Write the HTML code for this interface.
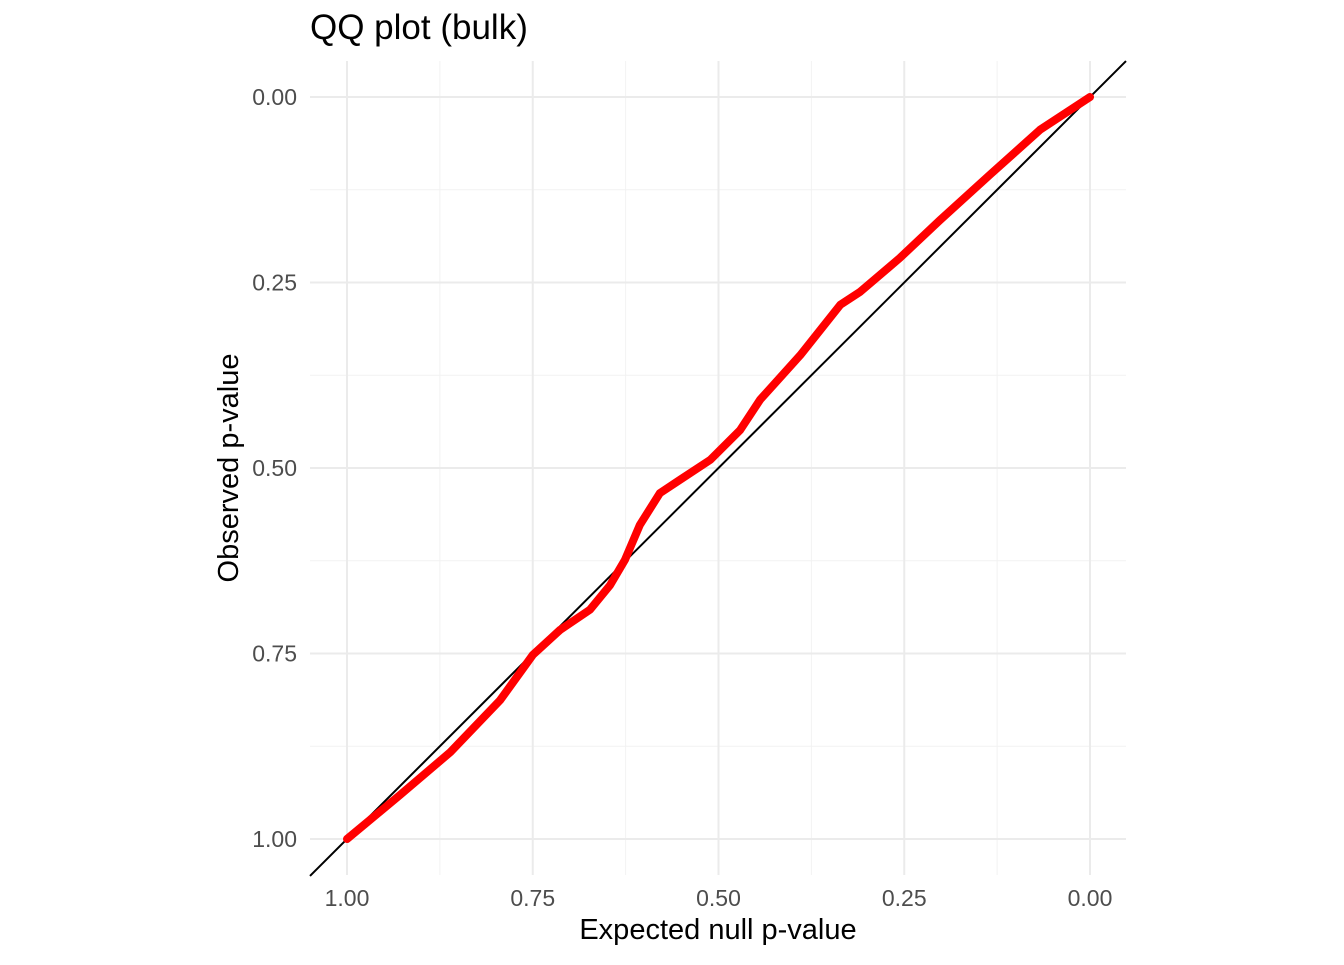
<!DOCTYPE html>
<html><head><meta charset="utf-8"><style>
body{margin:0;background:#fff;font-family:"Liberation Sans",sans-serif}
</style></head><body>
<svg width="1344" height="960" xmlns="http://www.w3.org/2000/svg">
<text x="310" y="39" font-size="35" fill="#000">QQ plot (bulk)</text>
<g id="grid"></g>
<g id="axes"></g>
<line id="diag" stroke="#000" stroke-width="2"/>
<polyline id="curve" fill="none" stroke="#ff0000" stroke-width="8" stroke-linejoin="round" stroke-linecap="round"/>
<text x="718" y="939" font-size="29" text-anchor="middle">Expected null p-value</text>
<text transform="translate(238,468) rotate(-90)" font-size="29" text-anchor="middle">Observed p-value</text>
</svg>
<script>
const expected=[1,0.929,0.861,0.794,0.750,0.713,0.673,0.646,0.626,0.606,0.579,0.552,0.511,0.471,0.444,0.390,0.336,0.310,0.256,0.202,0.135,0.067,0];
const observed=[1,0.941,0.883,0.813,0.752,0.718,0.691,0.658,0.624,0.577,0.534,0.516,0.489,0.449,0.408,0.348,0.280,0.263,0.217,0.166,0.105,0.044,0];
const ticks=[1,0.75,0.5,0.25,0];
const tickLabels=["1.00","0.75","0.50","0.25","0.00"];
const minorTicks=[0.875,0.625,0.375,0.125];
const X=v=>347+(1-v)*743, Y=v=>97+v*742;
const L=310,R=1126,T=61,B=875, ns="http://www.w3.org/2000/svg";
const grid=document.getElementById('grid'), axes=document.getElementById('axes');
function ln(g,x1,y1,x2,y2,c,w,name){const l=document.createElementNS(ns,'line');
l.setAttribute('x1',x1);l.setAttribute('y1',y1);l.setAttribute('x2',x2);l.setAttribute('y2',y2);
l.setAttribute('stroke',c);l.setAttribute('stroke-width',w);


g.appendChild(l);}
minorTicks.forEach(v=>{ln(grid,X(v),T,X(v),B,'#f2f2f2',1,'minor-gridline-x');ln(grid,L,Y(v),R,Y(v),'#f2f2f2',1,'minor-gridline-y');});
ticks.forEach((v,i)=>{ln(grid,X(v),T,X(v),B,'#ebebeb',2,'major-gridline-x');ln(grid,L,Y(v),R,Y(v),'#ebebeb',2,'major-gridline-y');
const tx=document.createElementNS(ns,'text');tx.setAttribute('x',X(v));tx.setAttribute('y',906);tx.setAttribute('font-size','23');tx.setAttribute('fill','#4d4d4d');tx.setAttribute('text-anchor','middle');tx.textContent=tickLabels[i];


axes.appendChild(tx);
const ty=document.createElementNS(ns,'text');ty.setAttribute('x',297);ty.setAttribute('y',Y(v)+8);ty.setAttribute('font-size','23');ty.setAttribute('fill','#4d4d4d');ty.setAttribute('text-anchor','end');ty.textContent=tickLabels[i];


axes.appendChild(ty);});
const d=document.getElementById('diag');
const vL=1-(L-347)/743, vR=1-(R-347)/743;
d.setAttribute('x1',L);d.setAttribute('y1',Y(vL));d.setAttribute('x2',R);d.setAttribute('y2',Y(vR));
document.getElementById('curve').setAttribute('points',expected.map((e,i)=>X(e)+','+Y(observed[i])).join(' '));
</script>
</body></html>
